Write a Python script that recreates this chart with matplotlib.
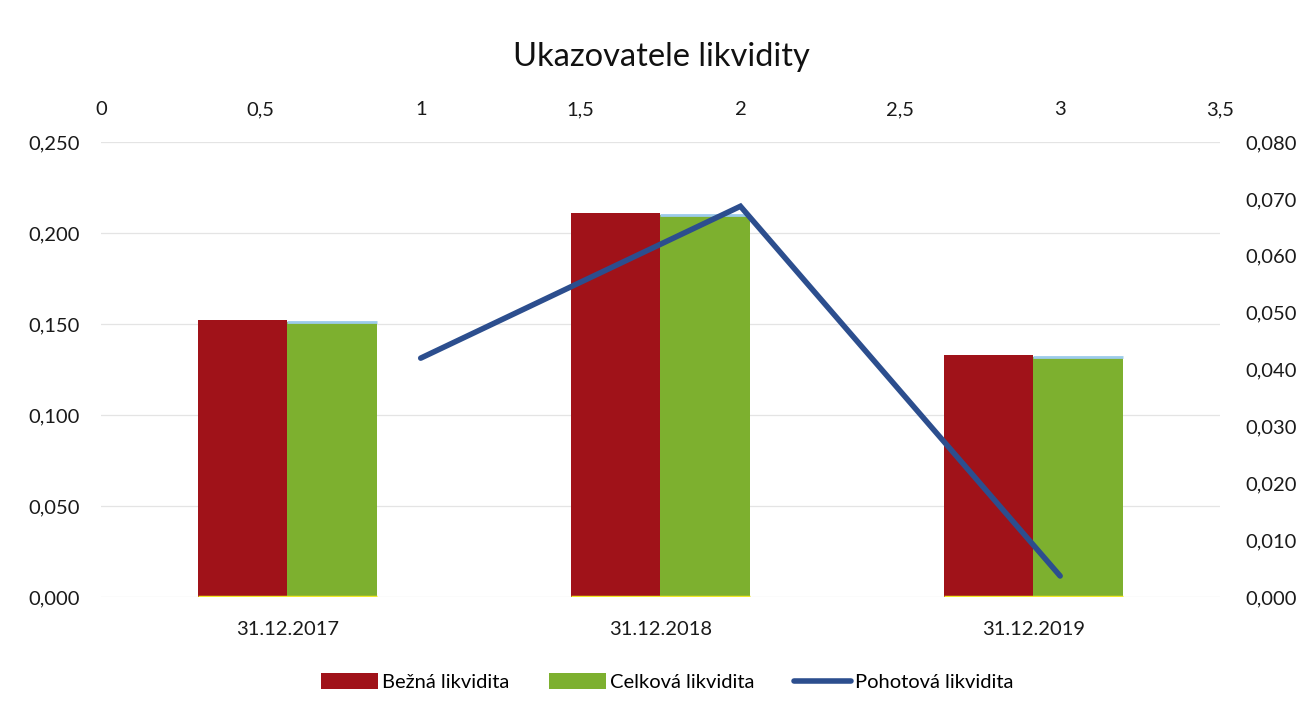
import matplotlib.pyplot as plt
import numpy as np

plt.rcParams['font.family'] = ['Lato', 'DejaVu Sans']

categories = ['31.12.2017', '31.12.2018', '31.12.2019']
bezna = [0.152, 0.211, 0.133]
celkova = [0.151, 0.210, 0.132]
pohotova_x = [1, 2, 3]
pohotova = [0.042, 0.0687, 0.0037]

red = '#A01219'
green = '#7DB02F'
blue = '#2C4E8E'

fig = plt.figure(figsize=(13.03, 7.15), dpi=100)
ax = fig.add_axes([0.0775, 0.165, 0.8588, 0.6364])

x = np.arange(len(categories))
w = 0.24
b1 = ax.bar(x - w / 2, bezna, w, color=red, zorder=2)
b2 = ax.bar(x + w / 2, celkova, w, color=green, zorder=2)
# thin coloured edges as in the original (blue top on green, yellow base)
ax.hlines(celkova, x, x + w, color='#9CCBEA', lw=2, zorder=3)
ax.hlines([0] * len(x), x - w, x + w, color='#F2EA2A', lw=2.5, zorder=3)

ax.set_xlim(-0.5, len(categories) - 0.5)
ax.set_ylim(0, 0.25)
ax.set_yticks(np.arange(0, 0.2501, 0.05))
ax.set_yticklabels([f'{v:.3f}'.replace('.', ',') for v in np.arange(0, 0.2501, 0.05)])
ax.set_xticks(x)
ax.set_xticklabels(categories)
ax.tick_params(axis='both', length=0, labelsize=14.5, colors='#1a1a1a')
ax.tick_params(axis='y', pad=15)
ax.tick_params(axis='x', pad=17)
ax.grid(axis='y', color='#E4E4E4', lw=0.9, zorder=0)
for s in ax.spines.values():
    s.set_visible(False)

# secondary axes: top x (0..3.5) and right y (0..0.08)
ax2 = fig.add_axes(ax.get_position(), frameon=False)
ax2.plot(pohotova_x, pohotova, color=blue, lw=4, solid_capstyle='round',
         solid_joinstyle='miter', label='Pohotová likvidita', zorder=4)
ax2.set_xlim(0, 3.5)
ax2.set_ylim(0, 0.08)
xt = np.arange(0, 3.51, 0.5)
ax2.set_xticks(xt)
ax2.set_xticklabels([f'{v:g}'.replace('.', ',') for v in xt])
yt = np.arange(0, 0.0801, 0.01)
ax2.set_yticks(yt)
ax2.set_yticklabels([f'{v:.3f}'.replace('.', ',') for v in yt])
ax2.xaxis.tick_top()
ax2.yaxis.tick_right()
ax2.tick_params(axis='both', length=0, labelsize=14.5, colors='#1a1a1a')
ax2.tick_params(axis='x', pad=17)
ax2.tick_params(axis='y', pad=18)
ax2.patch.set_visible(False)

fig.text(0.508, 0.92, 'Ukazovatele likvidity', ha='center', va='center',
         fontsize=23.5, color='#111111')

handles = [b1, b2, ax2.get_lines()[0]]
labels = ['Bežná likvidita', 'Celková likvidita', 'Pohotová likvidita']
fig.legend(handles, labels, loc='center', bbox_to_anchor=(0.512, 0.046), ncol=3,
           frameon=False, fontsize=14.5, handlelength=2.8, handleheight=0.85,
           columnspacing=2.0, handletextpad=0.2)

fig.savefig('out.png', dpi=100, facecolor='white')
